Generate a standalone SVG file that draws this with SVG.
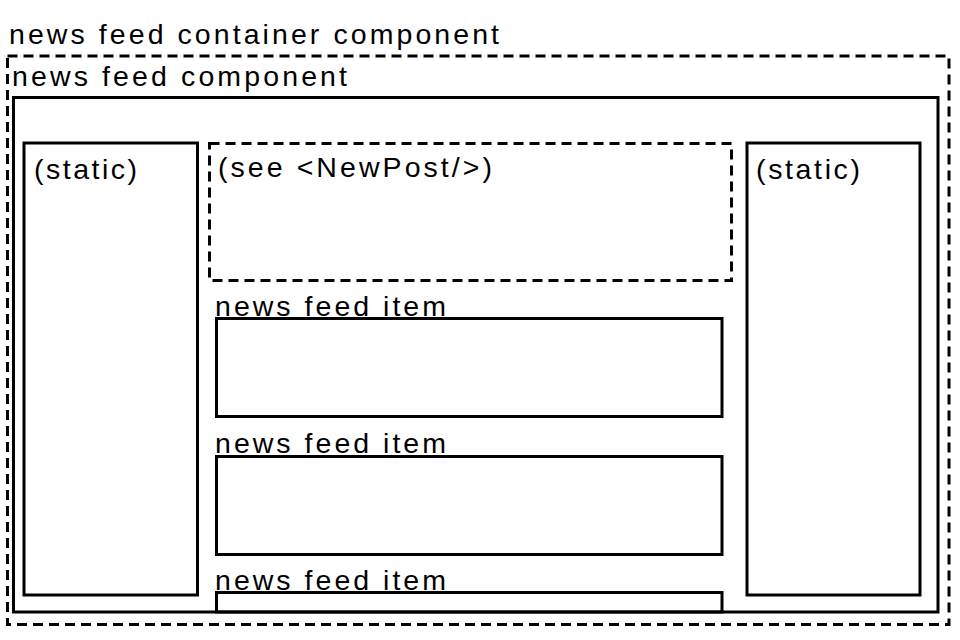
<svg xmlns="http://www.w3.org/2000/svg" width="960" height="640" viewBox="0 0 960 640">
  <style>
    .box { fill: none; stroke: #000; stroke-width: 3; }
    .dash { stroke-dasharray: 10 6; }
    .lbl { font-family: "Liberation Sans", Arial, sans-serif; font-size: 28.5px; fill: #000; }
  </style>
  <rect x="0" y="0" width="960" height="640" fill="#fff"/>
  <g id="news-feed-container">
    <text class="lbl" x="9" y="44" textLength="490" lengthAdjust="spacing">news feed container component</text>
    <rect class="box dash" x="7.5" y="56" width="941.5" height="568.5"/>
  </g>
  <g id="news-feed-component">
    <text class="lbl" x="12" y="85.5" textLength="335" lengthAdjust="spacing">news feed component</text>
    <rect class="box" x="13.5" y="97.5" width="924.5" height="514.5"/>
  </g>
  <g id="static-left">
    <rect class="box" x="24" y="143" width="173.5" height="452"/>
    <text class="lbl" x="34" y="178.5" textLength="103" lengthAdjust="spacing">(static)</text>
  </g>
  <g id="new-post">
    <rect class="box dash" x="209.5" y="143.5" width="522" height="137"/>
    <text class="lbl" x="218" y="177" textLength="274" lengthAdjust="spacing">(see &lt;NewPost/&gt;)</text>
  </g>
  <g id="static-right">
    <rect class="box" x="747" y="143" width="173" height="452"/>
    <text class="lbl" x="756" y="178.5" textLength="104" lengthAdjust="spacing">(static)</text>
  </g>
  <g id="news-feed-item-1">
    <text class="lbl" x="215" y="315.5" textLength="231" lengthAdjust="spacing">news feed item</text>
    <rect class="box" x="216.5" y="318.5" width="505.5" height="98"/>
  </g>
  <g id="news-feed-item-2">
    <text class="lbl" x="215" y="453" textLength="231" lengthAdjust="spacing">news feed item</text>
    <rect class="box" x="216.5" y="456.5" width="505.5" height="98"/>
  </g>
  <g id="news-feed-item-3">
    <text class="lbl" x="215" y="590" textLength="231" lengthAdjust="spacing">news feed item</text>
    <rect class="box" x="216.5" y="592.5" width="505.5" height="19.5"/>
  </g>
  <g id="connectors"/>
</svg>
